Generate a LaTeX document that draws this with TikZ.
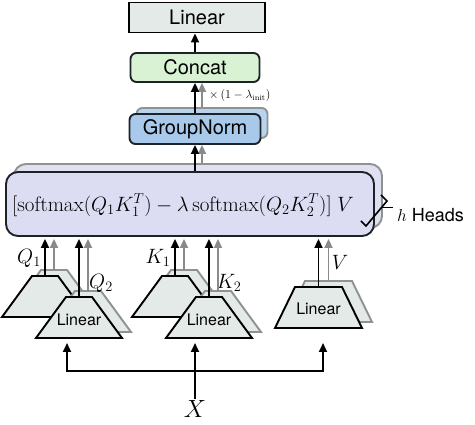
\documentclass[tikz,border=0pt]{standalone}
\usepackage{fontspec}
\setsansfont{TeX Gyre Heros}
\usetikzlibrary{arrows.meta,calc}
\definecolor{linfill}{HTML}{E4EAE7}
\definecolor{concatfill}{HTML}{D8F2D3}
\definecolor{gnfill}{HTML}{A8C9EA}
\definecolor{gnback}{HTML}{B8D3EE}
\definecolor{attfill}{HTML}{DCDCF2}
\definecolor{attback}{HTML}{E0E0F0}
\definecolor{edge}{HTML}{1B2328}
\definecolor{shadowline}{HTML}{8E9292}
\definecolor{arrgray}{HTML}{8A8A8A}
\newcommand\mytrap[6]{%
  \draw[#2] ({#3-#6/2},{#4}) -- ({#3+#6/2},{#4}) -- ({#3+#5/2},{#4-41}) -- ({#3-#5/2},{#4-41}) -- cycle;
  \coordinate (#1) at ({#3},{#4-41});
}
\tikzset{
  sqbox/.style={draw=black, line width=1.9pt, fill=linfill, inner sep=0pt,
    font=\sffamily\fontsize{20}{22}\selectfont},
  rbox/.style={draw=edge, line width=1.9pt, rounded corners=6pt, inner sep=0pt,
    font=\sffamily\fontsize{20}{22}\selectfont},
  shbox/.style={draw=shadowline, line width=1.9pt, rounded corners=6pt, inner sep=0pt},
  arr/.style={-{Triangle[length=9pt,width=8pt]}, line width=1.9pt, black},
  garr/.style={arr, arrgray},
  trapfront/.style={draw=black, line width=1.9pt, fill=linfill, line join=miter},
  trapback/.style={draw=shadowline, line width=1.9pt, fill=linfill, line join=miter},
  tlabel/.style={font=\sffamily\fontsize{16}{18}\selectfont, inner sep=0pt},
  lbl/.style={font=\fontsize{20}{22}\selectfont, inner sep=0pt},
}
\begin{document}
\begin{tikzpicture}[x=1pt,y=-1pt]
\useasboundingbox (0,0) rectangle (475,425);
% top stack
\node[sqbox, minimum width=136pt, minimum height=30pt] (lin) at (197,17.5) {Linear};
\node[rbox, fill=concatfill, minimum width=129pt, minimum height=29pt] (cat) at (195,67.5) {Concat};
\node[shbox, fill=gnback, minimum width=131pt, minimum height=30pt] (gnb) at (202,123) {};
\node[rbox, fill=gnfill, minimum width=131pt, minimum height=30pt] (gn) at (195,129) {GroupNorm};
\node[font=\fontsize{11.5}{13}\selectfont, anchor=west, inner sep=0pt] (factor) at (209,96) {$\times\,(1-\lambda_{\mathrm{init}})$};
% attention
\node[shbox, fill=attback, rounded corners=12pt, minimum width=368pt, minimum height=64pt] (attb) at (198,196) {};
\node[rbox, fill=attfill, rounded corners=12pt, minimum width=368pt, minimum height=64pt] (att) at (190,204) {};
\node[font=\fontsize{21}{24}\selectfont, inner sep=0pt] (formula) at (183,205)
  {$[\mathrm{softmax}(Q_1K_1^T)-\lambda\,\mathrm{softmax}(Q_2K_2^T)]\;V$};
\coordinate (attbot) at ([yshift=-2pt]att.south);
% brace and heads
\draw[line width=1.6pt, line join=miter] (381,195) -- (387,201) -- (366,226) -- (361,221);
\draw[line width=1.6pt] (381,207.5) -- (393,207.5);
\node[anchor=west, inner sep=0pt, font=\sffamily\fontsize{18}{20}\selectfont] (heads) at (397,215) {$h$ Heads};
% trapezoids
\mytrap{q1s}{trapback}{54}{311}{26}{86}
\mytrap{q1t}{trapfront}{45}{317}{26}{86}
\mytrap{q2s}{trapback}{88}{332}{26}{86}
\mytrap{q2t}{trapfront}{79}{338}{26}{86}
\mytrap{k1s}{trapback}{184}{311}{26}{86}
\mytrap{k1t}{trapfront}{175}{317}{26}{86}
\mytrap{k2s}{trapback}{218}{332}{26}{86}
\mytrap{k2t}{trapfront}{209}{338}{26}{86}
\mytrap{vs}{trapback}{328.5}{322}{47}{87}
\mytrap{vt}{trapfront}{318.5}{328}{47}{87}
\node[tlabel] (q2lin) at (79,320) {Linear};
\node[tlabel] (k2lin) at (209,320) {Linear};
\node[tlabel] (vlin) at (318.5,309) {Linear};
% labels
\node[lbl] (lq1) at (29,258) {$Q_1$};
\node[lbl] (lq2) at (101,283) {$Q_2$};
\node[lbl] (lk1) at (158,258) {$K_1$};
\node[lbl] (lk2) at (229,283) {$K_2$};
\node[lbl] (lv) at (340,262) {$V$};
% arrows up
\draw[arr] (cat.north) -- (cat.north |- lin.south);
\draw[garr] (gnb.north) -- (gnb.north |- cat.south);
\draw[arr] (gn.north) -- (cat.south);
\draw[garr] (attb.north -| gnb.south) -- (gnb.south |- gn.south);
\draw[arr] (att.north -| gn.south) -- (gn.south);
\foreach \s/\t in {q1s/q1t,q2s/q2t,k1s/k1t,k2s/k2t,vs/vt}{
  \draw[garr] (\s) -- (\s |- attbot);
  \draw[arr] (\t) -- (\t |- attbot);
}
% input
\node[font=\fontsize{25}{27}\selectfont, inner sep=1pt] (X) at (195,409) {$X$};
\coordinate (split) at (195,371);
\coordinate (inq) at (67,343);
\coordinate (ink) at (195,343);
\coordinate (inv) at (323,343);
\draw[arr] (split) -| (inq);
\draw[arr] (split) -| (inv);
\draw[arr] (X.north) -- (ink);
\end{tikzpicture}
\end{document}
